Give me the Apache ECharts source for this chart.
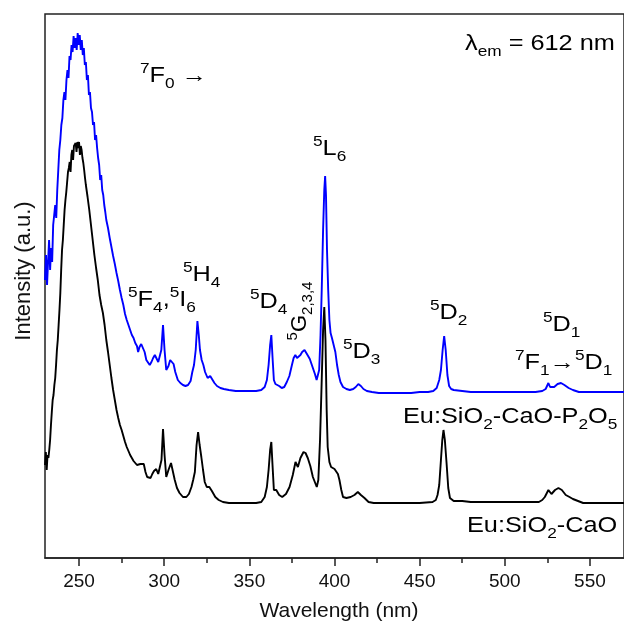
<!DOCTYPE html>
<html><head><meta charset="utf-8">
<script src="https://cdn.jsdelivr.net/npm/echarts@6/dist/echarts.min.js"></script>
<style>html,body{margin:0;padding:0;background:#fff}#c{width:624px;height:624px}</style>
</head><body><div id="c"></div>
<script>
// Eu:SiO2-CaO-P2O5 (blue) excitation spectrum, arbitrary units
const blueWavelength = [230,230.6,231.2,231.8,232.4,233,233.6,234.2,234.8,235.4,236,236.6,237.2,237.8,238.4,239,239.6,240.2,240.8,241.4,242,242.6,243.2,243.8,244.4,245,245.6,246.2,246.8,247.4,248,248.6,249.2,249.8,250.4,251,251.6,252.2,252.8,253.4,254,254.6,255.2,255.8,256.4,257,257.6,258.2,258.8,259.4,260,260.6,261.2,261.8,262.4,263,263.6,264.2,264.8,265.4,266,267,268,269,270,271,272,273,274,275,276,277,278,279,280,281,282,283,284,284.7,285.5,286.5,287.5,288.5,289.5,290.5,291.5,292.5,293.5,294.5,295.5,296.5,297.5,298.3,299.3,300.2,301.2,302.5,303.5,304.5,305.5,306.5,308,309.5,311,312.5,314,315.5,316.5,317.5,318.5,319.5,320.3,321,322,323,324,325.5,327,328,329.5,331,333,335,338,342,346,350,354,357,359,360.3,361.3,362.2,362.9,363.7,364.4,365.3,366.2,367.5,369,370.5,372,373.5,375,376,377,378,379,380,381,382.4,383.5,384.5,385.5,386.5,387.5,388.5,389.5,390.3,391,391.8,392.5,393.3,394,394.5,395,395.6,396.3,397,397.7,398.5,399.5,400.5,401.5,402.5,403.5,405,407,409,411,412.5,414,415.5,417,419,422,426,430,435,440,445,450,455,458,460,461.5,462.5,463.5,464.4,465.3,466.3,467.3,468.5,470,475,480,490,500,510,518,522,524,525.6,526.6,527.6,529,531,533,535,537.5,540,543.5,550,560,570];
const blueIntensity = [278,303,273,296,318,288,310,296,333,343,353,340,368,388,408,418,433,440,458,466,458,478,488,480,502,498,513,506,522,510,520,508,525,513,523,508,518,503,510,493,496,478,483,463,466,450,446,433,436,418,423,410,400,393,378,383,368,363,353,346,338,330,320,311,302,294,285,277,268,260,253,244,238,233,228,223,220,215,212,206,211,214,215,206,198,196,193,196,200,203,201,196,196,208,233,208,188,192,198,200,194,186,178,175,173,172,173,177,186,193,208,237,223,208,198,193,186,180,182,180,175,172,170,169,168,167,167,167,167,168,171,178,193,213,223,198,178,174,175,172,170,171,176,182,193,200,203,200,198,203,206,208,206,202,199,194,189,184,178,176,188,223,268,328,368,382,363,308,268,238,225,220,213,206,193,183,176,171,169,168,169,171,174,172,169,167,166,165,165,165,165,165,166,166,167,170,178,188,208,222,208,183,172,169,168,167,166,166,166,166,166,167,169,175,171,169,171,174,175,173,170,168,166,166,166,166];
// Eu:SiO2-CaO (black) excitation spectrum, arbitrary units
const blackWavelength = [230,230.5,231,231.5,232,232.5,233,233.5,234,234.5,235,235.5,236,236.5,237,237.5,238,238.5,239,239.5,240,240.5,241,241.5,242,242.5,243,243.5,244,244.5,245,245.5,246,246.5,247,247.5,248,248.5,249,249.5,250,250.5,251,251.5,252,252.5,253,253.5,254,255,256,257,258,259,260,261,262,263,264,265,266,267,268,269,270,271,272,273,274,275,276,277,278,279,280,281,282,283,284,285,286,287,288,289,290,291,292,293,294,295.3,296.5,297.5,298.4,299.3,300.2,301.2,302.5,304,305,306.2,307.5,309,311,313,314.5,316,317,318,319,319.9,320.8,321.8,322.8,323.8,325,326.5,328,330,332,334.5,338,342,346,350,354,357,359,360.3,361.3,362.2,362.9,363.6,364.4,365.8,367.5,369.3,371.5,373.6,375.5,377.1,378.5,380,381.8,383,384.3,385.8,387.3,389.6,390.5,391.5,392.5,393.3,394,394.7,395.4,396,397,398,399,400,401,402,402.9,404,405,407,409.5,411.7,413.7,415.5,417.6,420,423,430,440,450,457.6,459.5,460.5,461.5,462.5,463.3,464,464.8,465.8,466.8,467.8,470,475,480,490,500,510,520,522,523.5,525.6,527.4,529.5,531.5,533.5,535.8,538,540,543,546,555,570];
const blackIntensity = [93,106,88,103,100,108,118,133,146,158,163,173,180,193,208,218,233,248,265,288,308,318,333,348,358,366,376,386,390,396,386,403,408,398,412,410,415,406,416,410,416,403,412,408,400,395,388,380,373,361,348,333,318,303,290,278,263,253,245,233,218,206,193,180,168,158,148,140,133,128,122,116,111,107,103,100,97,95,93,92,94,96,94,86,81,80,80,84,87,89,84,83,98,129,103,81,88,95,95,78,70,65,61,61,64,71,78,86,113,126,113,101,88,76,71,71,67,61,58,56,55,55,55,55,55,56,61,71,88,108,116,93,68,68,63,61,64,71,83,96,91,100,106,105,100,92,81,71,78,118,178,228,251,218,148,111,96,91,89,89,90,84,78,68,61,60,61,63,66,63,60,56,55,55,55,55,56,58,63,73,98,118,128,118,95,70,60,57,57,56,56,56,56,56,58,61,68,64,68,70,68,63,61,59,57,55,55,55];
const xMin = 230, xMax = 570;
const yMin = 0, yMax = 544;
const xMajorTicks = [250,300,350,400,450,500,550];
const xMinorTicks = [275,325,375,425,475,525];

const FONT = '"Liberation Sans", Arial, Helvetica, sans-serif';
function zip(a,b){ return a.map((v,i)=>[v,b[i]]); }
function richStyles(size){
  const s = Math.round(size*0.7);
  return {
    m:{fontSize:size,lineHeight:Math.round(size*1.36),fontFamily:FONT,fill:'#000',verticalAlign:'middle'},
    sup:{fontSize:s,lineHeight:s,fontFamily:FONT,fill:'#000',verticalAlign:'top'},
    sub:{fontSize:s,lineHeight:s,fontFamily:FONT,fill:'#000',verticalAlign:'bottom'}
  };
}
function label(text,x,y,opts){
  opts = opts||{};
  const size = opts.size||22;
  return {type:'text',x:x,y:y,scaleX:opts.sx||1.15,rotation:opts.rot||0,z:100,
    style:{text:text,rich:richStyles(size),fontSize:size,fontFamily:FONT,fill:'#000',
      align:opts.align||'left',verticalAlign:'middle'}};
}

const chart = echarts.init(document.getElementById('c'),null,{renderer:'canvas'});
chart.setOption({
  animation:false,
  backgroundColor:'#fff',
  grid:{left:45,top:14,width:580,height:544,show:true,borderColor:'#222',borderWidth:1.5,backgroundColor:'transparent'},
  xAxis:[{
    type:'value',min:xMin,max:xMax,position:'bottom',
    axisLine:{show:true,lineStyle:{color:'#222',width:1.5}},
    axisTick:{show:true,inside:false,length:8,customValues:xMajorTicks,lineStyle:{color:'#222',width:1.5}},
    axisLabel:{show:true,customValues:xMajorTicks,margin:14,fontSize:19,fontFamily:FONT,color:'#111'},
    splitLine:{show:false}
  },{
    type:'value',min:xMin,max:xMax,position:'bottom',gridIndex:0,
    axisLine:{show:false},
    axisTick:{show:true,inside:false,length:5,customValues:xMinorTicks,lineStyle:{color:'#222',width:1.5}},
    axisLabel:{show:false},
    splitLine:{show:false}
  }],
  yAxis:{type:'value',min:yMin,max:yMax,axisLine:{show:false},axisTick:{show:false},axisLabel:{show:false},splitLine:{show:false}},
  series:[
    {type:'line',name:'Eu:SiO2-CaO-P2O5',data:zip(blueWavelength,blueIntensity),showSymbol:false,
     lineStyle:{color:'#0000ff',width:1.9},itemStyle:{color:'#0000ff'}},
    {type:'line',name:'Eu:SiO2-CaO',data:zip(blackWavelength,blackIntensity),showSymbol:false,
     lineStyle:{color:'#000000',width:1.9},itemStyle:{color:'#000'}}
  ],
  graphic:[
    {type:'text',x:339,y:611,z:100,style:{text:'Wavelength (nm)',fontSize:21,fontFamily:FONT,fill:'#111',align:'center',verticalAlign:'middle'}},
    {type:'text',x:24,y:271,rotation:Math.PI/2,z:100,style:{text:'Intensity (a.u.)',fontSize:22,fontFamily:FONT,fill:'#111',align:'center',verticalAlign:'middle'}},
    label('{m|λ}{sub|em}{m| = 612 nm}',465,44),
    label('{sup|7}{m|F}{sub|0}{m| →}',140,76),
    label('{sup|5}{m|F}{sub|4}{m|,}{sup|5}{m|I}{sub|6}',128,300),
    label('{sup|5}{m|H}{sub|4}',183,275),
    label('{sup|5}{m|D}{sub|4}',250,302),
    label('{sup|5}{m|G}{sub|2,3,4}',300,311,{rot:Math.PI/2,align:'center',sx:1}),
    label('{sup|5}{m|L}{sub|6}',313,149),
    label('{sup|5}{m|D}{sub|3}',343,352),
    label('{sup|5}{m|D}{sub|2}',430,313),
    label('{sup|5}{m|D}{sub|1}',543,325),
    label('{sup|7}{m|F}{sub|1}{m|→}{sup|5}{m|D}{sub|1}',515,363),
    label('{m|Eu:SiO}{sub|2}{m|-CaO-P}{sub|2}{m|O}{sub|5}',403,417),
    label('{m|Eu:SiO}{sub|2}{m|-CaO}',467,526)
  ]
});
</script>
</body></html>
